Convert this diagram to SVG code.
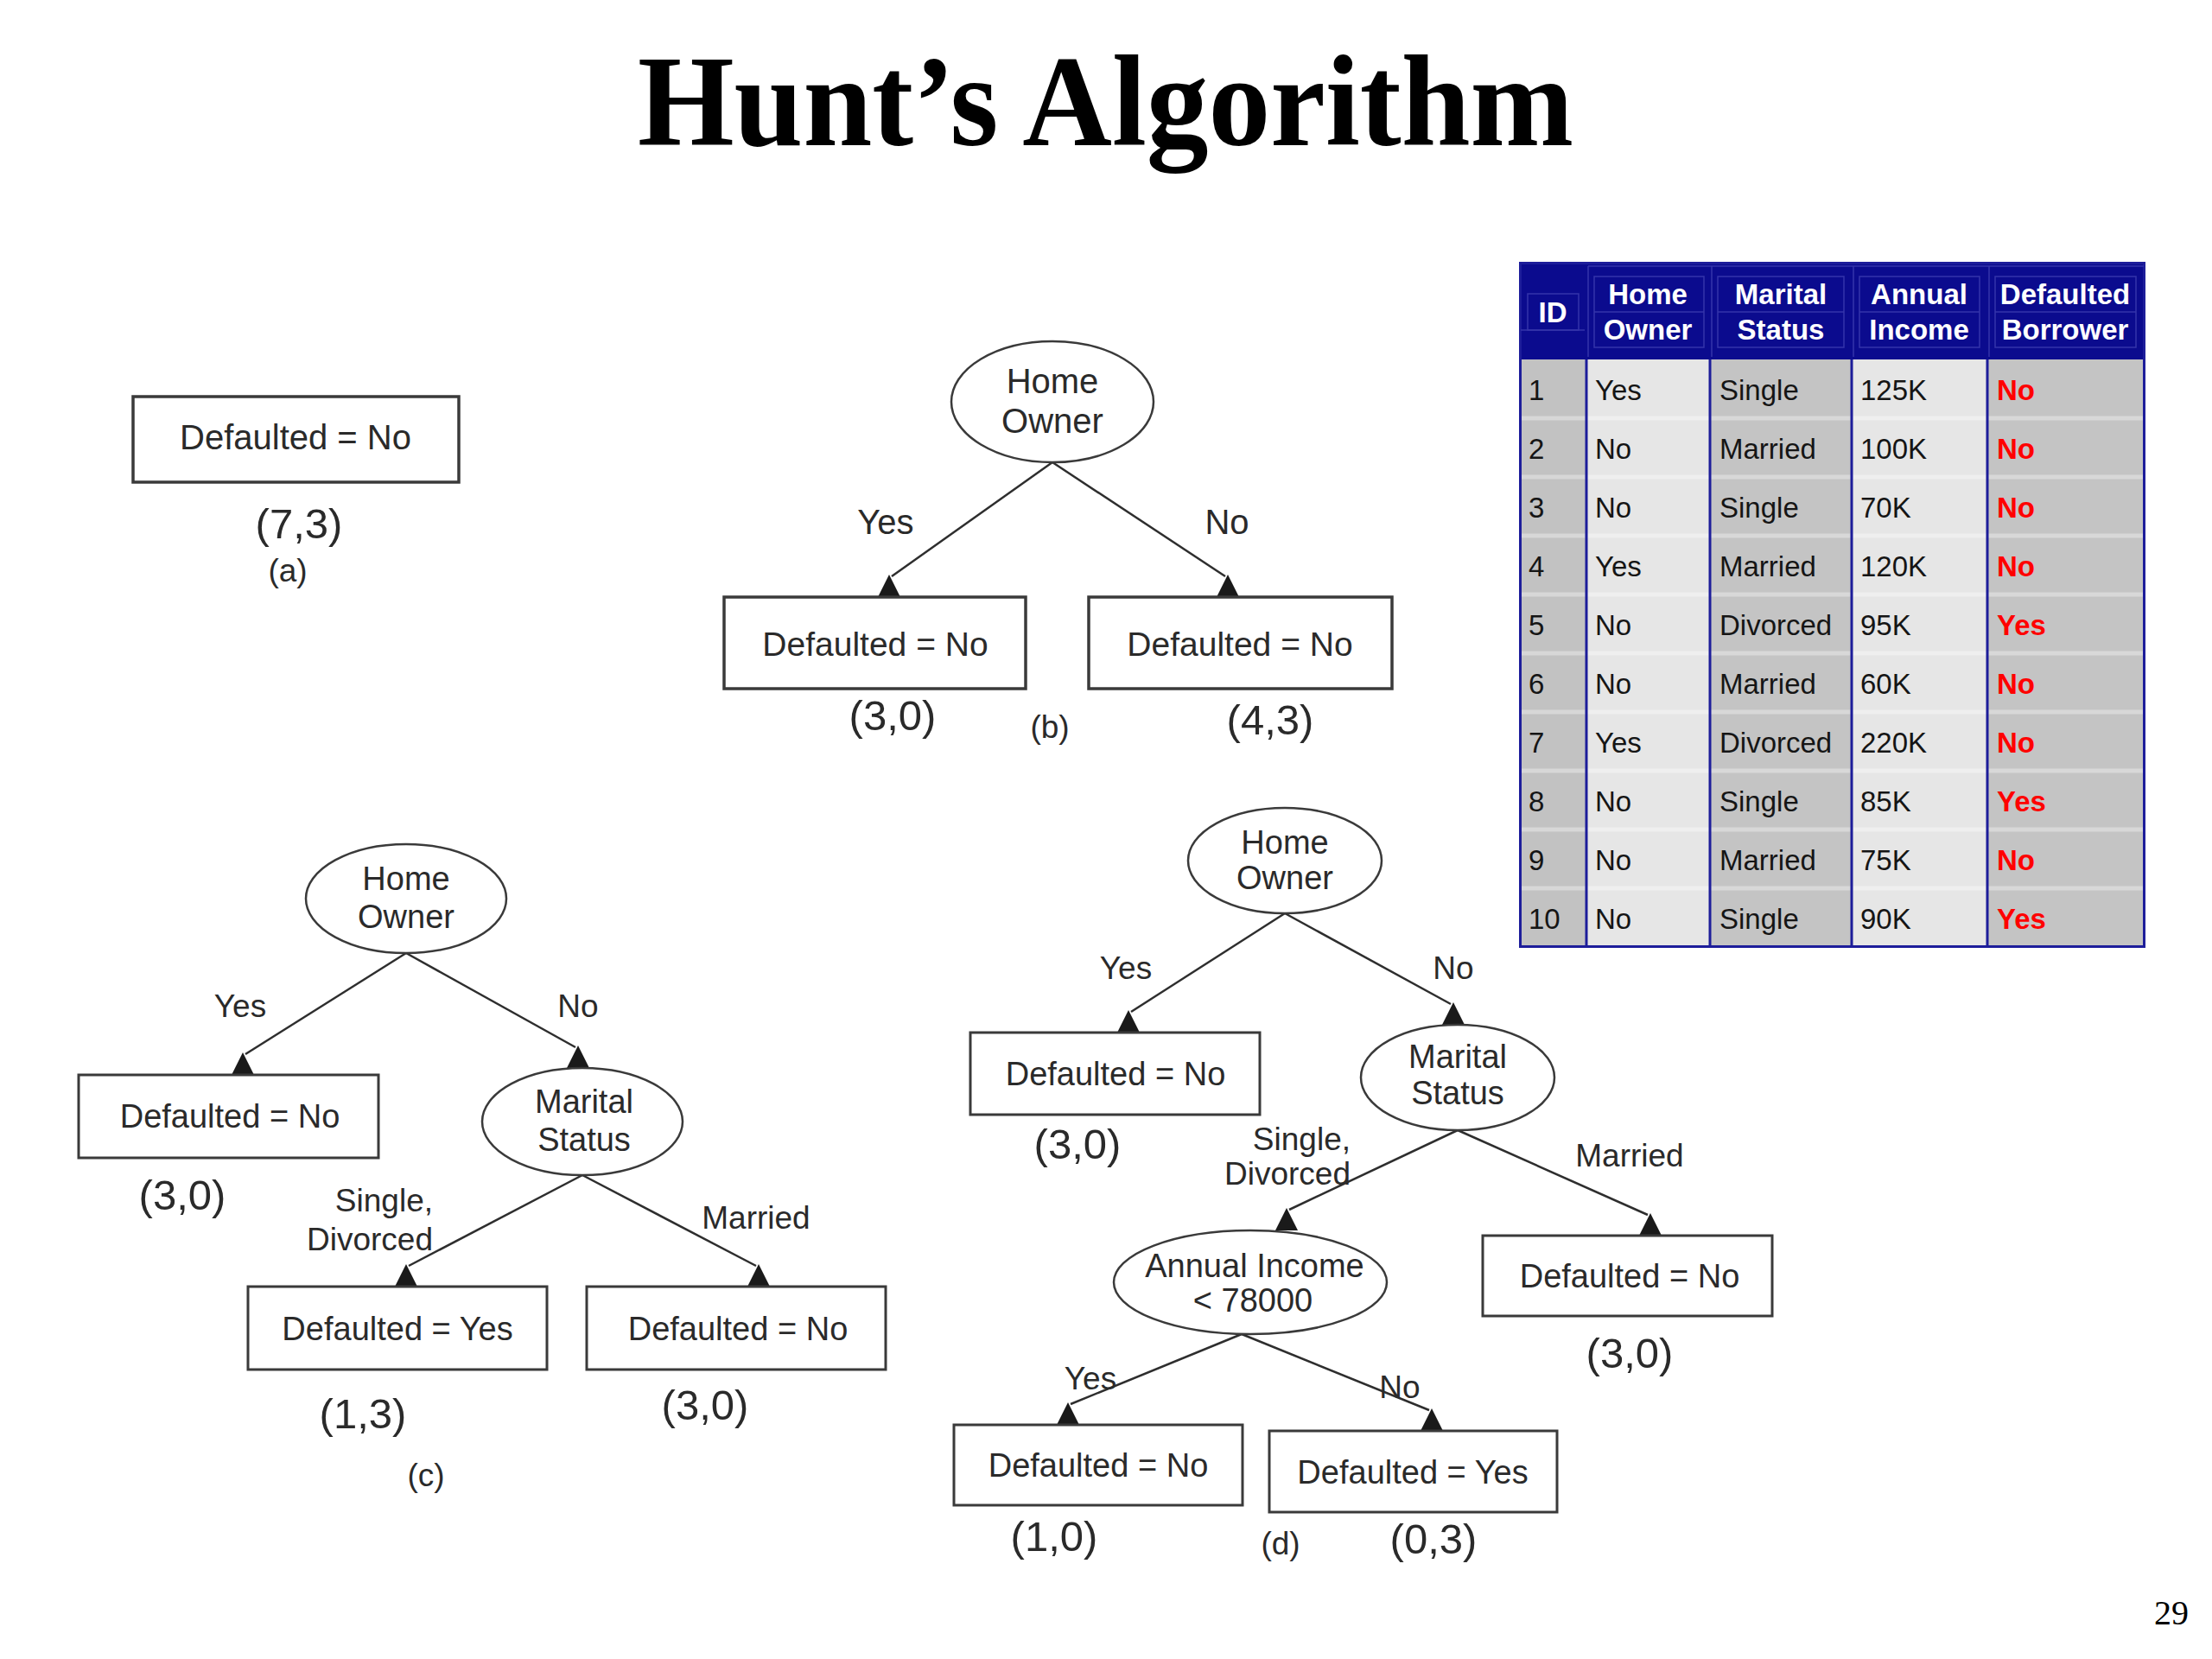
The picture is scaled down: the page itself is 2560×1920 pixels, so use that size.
<svg xmlns="http://www.w3.org/2000/svg" width="2560" height="1920" viewBox="0 0 2560 1920">
<defs>
<style>
.bg{fill:#ffffff}
.box{fill:#ffffff;stroke:#3a3a3a;stroke-width:3}
.ell{fill:#ffffff;stroke:#3a3a3a;stroke-width:2.5}
.edge{stroke:#2e2e2e;stroke-width:2.5;fill:none}
.arr{fill:#1a1a1a}
.t{font-family:"Liberation Sans",Arial,Helvetica,sans-serif;fill:#2a2a2a;text-anchor:middle}
.n{font-size:38px}
.lb{font-size:37px}
.ct{font-size:49px}
.sub{font-size:37px}
.title{font-family:"Liberation Serif","Times New Roman",serif;font-weight:bold;font-size:150px;fill:#000}
.hd{font-family:"Liberation Sans",Arial,sans-serif;font-weight:bold;font-size:33px;fill:#ffffff;text-anchor:middle}
.cell{font-family:"Liberation Sans",Arial,sans-serif;font-size:33px;fill:#151515}
.red{font-family:"Liberation Sans",Arial,sans-serif;font-size:33px;font-weight:bold;fill:#ff0000}
.hl{stroke:#3535aa;stroke-width:1.5;fill:none}
.vl{stroke:#1d1d9a;stroke-width:3}
.rs{stroke:#ffffff;stroke-opacity:0.35;stroke-width:5}
</style>
</defs>
<rect class="bg" x="0" y="0" width="2560" height="1920"/>

<text class="title" x="738" y="168" textLength="1083" lengthAdjust="spacingAndGlyphs">Hunt’s Algorithm</text>

<!-- (a) -->
<g id="a_leaf">
<rect class="box" x="154" y="459" width="377" height="99" style="stroke-width:3.5"/>
<text class="t" x="342" y="520" style="font-size:40px">Defaulted = No</text>
</g>
<g id="a_labels">
<text class="t ct" x="346" y="623">(7,3)</text>
<text class="t sub" x="333" y="673">(a)</text>
</g>

<!-- connectors -->
<g id="connectors">
<!-- b -->
<line class="edge" x1="1218" y1="535" x2="1032" y2="667"/>
<line class="edge" x1="1218" y1="535" x2="1418" y2="667"/>
<polygon class="arr" points="1016,691 1042,691 1029,665"/>
<polygon class="arr" points="1408,691 1434,691 1421,665"/>
<!-- c -->
<line class="edge" x1="470" y1="1103" x2="284" y2="1220"/>
<line class="edge" x1="470" y1="1103" x2="666" y2="1212"/>
<polygon class="arr" points="268,1244 294,1244 281,1218"/>
<polygon class="arr" points="656,1236 682,1236 669,1210"/>
<line class="edge" x1="674" y1="1360" x2="473" y2="1465"/>
<line class="edge" x1="674" y1="1360" x2="875" y2="1465"/>
<polygon class="arr" points="457,1489 483,1489 470,1463"/>
<polygon class="arr" points="865,1489 891,1489 878,1463"/>
<!-- d -->
<line class="edge" x1="1487" y1="1057" x2="1309" y2="1171"/>
<line class="edge" x1="1487" y1="1057" x2="1679" y2="1162"/>
<polygon class="arr" points="1293,1195 1319,1195 1306,1169"/>
<polygon class="arr" points="1669,1186 1695,1186 1682,1160"/>
<line class="edge" x1="1687" y1="1308" x2="1492" y2="1400"/>
<line class="edge" x1="1687" y1="1308" x2="1907" y2="1406"/>
<polygon class="arr" points="1476,1424 1502,1424 1489,1398"/>
<polygon class="arr" points="1897,1430 1923,1430 1910,1404"/>
<line class="edge" x1="1437" y1="1544" x2="1239" y2="1625"/>
<line class="edge" x1="1437" y1="1544" x2="1654" y2="1632"/>
<polygon class="arr" points="1223,1649 1249,1649 1236,1623"/>
<polygon class="arr" points="1644,1656 1670,1656 1657,1630"/>
</g>

<!-- (b) -->
<g id="b_home">
<ellipse class="ell" cx="1218" cy="465" rx="117" ry="70"/>
<text class="t" x="1218" y="455" style="font-size:40px">Home</text>
<text class="t" x="1218" y="501" style="font-size:40px">Owner</text>
</g>
<g id="b_leaf_yes">
<rect class="box" x="838" y="691" width="349" height="106" style="stroke-width:3.5"/>
<text class="t" x="1013" y="759" style="font-size:39px">Defaulted = No</text>
</g>
<g id="b_leaf_no">
<rect class="box" x="1260" y="691" width="351" height="106" style="stroke-width:3.5"/>
<text class="t" x="1435" y="759" style="font-size:39px">Defaulted = No</text>
</g>
<g id="b_labels">
<text class="t" x="1025" y="618" style="font-size:40px">Yes</text>
<text class="t" x="1420" y="618" style="font-size:40px">No</text>
<text class="t ct" x="1033" y="845">(3,0)</text>
<text class="t ct" x="1470" y="850">(4,3)</text>
<text class="t sub" x="1215" y="854">(b)</text>
</g>

<!-- (c) -->
<g id="c_home">
<ellipse class="ell" cx="470" cy="1040" rx="116" ry="63"/>
<text class="t n" x="470" y="1030">Home</text>
<text class="t n" x="470" y="1074">Owner</text>
</g>
<g id="c_leaf_yes">
<rect class="box" x="91" y="1244" width="347" height="96"/>
<text class="t n" x="266" y="1305">Defaulted = No</text>
</g>
<g id="c_marital">
<ellipse class="ell" cx="674" cy="1298" rx="116" ry="62"/>
<text class="t n" x="676" y="1288">Marital</text>
<text class="t n" x="676" y="1332">Status</text>
</g>
<g id="c_leaf_sd">
<rect class="box" x="287" y="1489" width="346" height="96"/>
<text class="t n" x="460" y="1551">Defaulted = Yes</text>
</g>
<g id="c_leaf_m">
<rect class="box" x="679" y="1489" width="346" height="96"/>
<text class="t n" x="854" y="1551">Defaulted = No</text>
</g>
<g id="c_labels">
<text class="t lb" x="278" y="1177">Yes</text>
<text class="t lb" x="669" y="1177">No</text>
<text class="t lb" x="501" y="1402" style="text-anchor:end">Single,</text>
<text class="t lb" x="501" y="1447" style="text-anchor:end">Divorced</text>
<text class="t lb" x="875" y="1422">Married</text>
<text class="t ct" x="211" y="1400">(3,0)</text>
<text class="t ct" x="420" y="1653">(1,3)</text>
<text class="t ct" x="816" y="1643">(3,0)</text>
<text class="t sub" x="493" y="1720">(c)</text>
</g>

<!-- (d) -->
<g id="d_home">
<ellipse class="ell" cx="1487" cy="996" rx="112" ry="61"/>
<text class="t n" x="1487" y="988">Home</text>
<text class="t n" x="1487" y="1029">Owner</text>
</g>
<g id="d_leaf_yes">
<rect class="box" x="1123" y="1195" width="335" height="95"/>
<text class="t n" x="1291" y="1256">Defaulted = No</text>
</g>
<g id="d_marital">
<ellipse class="ell" cx="1687" cy="1247" rx="112" ry="61"/>
<text class="t n" x="1687" y="1236">Marital</text>
<text class="t n" x="1687" y="1278">Status</text>
</g>
<g id="d_leaf_m">
<rect class="box" x="1716" y="1430" width="335" height="93"/>
<text class="t n" x="1886" y="1490">Defaulted = No</text>
</g>
<g id="d_income">
<ellipse class="ell" cx="1447" cy="1484" rx="158" ry="60"/>
<text class="t n" x="1452" y="1478">Annual Income</text>
<text class="t n" x="1450" y="1518">&lt; 78000</text>
</g>
<g id="d_leaf_iy">
<rect class="box" x="1104" y="1649" width="334" height="93"/>
<text class="t n" x="1271" y="1709">Defaulted = No</text>
</g>
<g id="d_leaf_in">
<rect class="box" x="1469" y="1656" width="333" height="94"/>
<text class="t n" x="1635" y="1717">Defaulted = Yes</text>
</g>
<g id="d_labels">
<text class="t lb" x="1303" y="1133">Yes</text>
<text class="t lb" x="1682" y="1133">No</text>
<text class="t lb" x="1563" y="1331" style="text-anchor:end">Single,</text>
<text class="t lb" x="1563" y="1371" style="text-anchor:end">Divorced</text>
<text class="t lb" x="1886" y="1350">Married</text>
<text class="t lb" x="1262" y="1608">Yes</text>
<text class="t lb" x="1620" y="1618">No</text>
<text class="t ct" x="1247" y="1341">(3,0)</text>
<text class="t ct" x="1886" y="1583">(3,0)</text>
<text class="t ct" x="1220" y="1795">(1,0)</text>
<text class="t sub" x="1482" y="1799">(d)</text>
<text class="t ct" x="1659" y="1798">(0,3)</text>
</g>

<!-- table -->
<g id="table">
<rect x="1758" y="303" width="725" height="794" fill="#0b0b8e"/>
<rect x="1760" y="416" width="76" height="679" fill="#c2c2c2"/>
<rect x="1836" y="416" width="143" height="679" fill="#e6e6e6"/>
<rect x="1979" y="416" width="164" height="679" fill="#c4c4c4"/>
<rect x="2143" y="416" width="157" height="679" fill="#e6e6e6"/>
<rect x="2300" y="416" width="181" height="679" fill="#c4c4c4"/>
<g>
<line class="rs" x1="1760" y1="484" x2="2481" y2="484"/>
<line class="rs" x1="1760" y1="552" x2="2481" y2="552"/>
<line class="rs" x1="1760" y1="620" x2="2481" y2="620"/>
<line class="rs" x1="1760" y1="688" x2="2481" y2="688"/>
<line class="rs" x1="1760" y1="756" x2="2481" y2="756"/>
<line class="rs" x1="1760" y1="824" x2="2481" y2="824"/>
<line class="rs" x1="1760" y1="892" x2="2481" y2="892"/>
<line class="rs" x1="1760" y1="960" x2="2481" y2="960"/>
<line class="rs" x1="1760" y1="1028" x2="2481" y2="1028"/>
</g>
<g>
<line class="vl" x1="1836" y1="416" x2="1836" y2="1097"/>
<line class="vl" x1="1979" y1="416" x2="1979" y2="1097"/>
<line class="vl" x1="2143" y1="416" x2="2143" y2="1097"/>
<line class="vl" x1="2300" y1="416" x2="2300" y2="1097"/>
<rect x="1759.5" y="304.5" width="722" height="791" fill="none" stroke="#1d1d9a" stroke-width="3"/>
</g>
<g>
<rect class="hl" x="1768" y="340" width="59" height="42"/>
<line class="hl" x1="1760" y1="382" x2="1834" y2="382"/>
<line class="hl" x1="1838" y1="308" x2="2481" y2="308"/>
<line class="hl" x1="1838" y1="308" x2="1838" y2="413"/>
<line class="hl" x1="1981" y1="308" x2="1981" y2="413"/>
<line class="hl" x1="2145" y1="308" x2="2145" y2="413"/>
<line class="hl" x1="2302" y1="308" x2="2302" y2="413"/>
<rect class="hl" x="1845" y="320" width="127" height="82"/>
<line class="hl" x1="1845" y1="361" x2="1972" y2="361"/>
<rect class="hl" x="1988" y="320" width="146" height="82"/>
<line class="hl" x1="1988" y1="361" x2="2134" y2="361"/>
<rect class="hl" x="2152" y="320" width="139" height="82"/>
<line class="hl" x1="2152" y1="361" x2="2291" y2="361"/>
<rect class="hl" x="2309" y="320" width="163" height="82"/>
<line class="hl" x1="2309" y1="361" x2="2472" y2="361"/>
</g>
<g>
<text class="hd" x="1797" y="373">ID</text>
<text class="hd" x="1907" y="352">Home</text>
<text class="hd" x="1907" y="393">Owner</text>
<text class="hd" x="2061" y="352">Marital</text>
<text class="hd" x="2061" y="393">Status</text>
<text class="hd" x="2221" y="352">Annual</text>
<text class="hd" x="2221" y="393">Income</text>
<text class="hd" x="2390" y="352">Defaulted</text>
<text class="hd" x="2390" y="393">Borrower</text>
</g>
<g>
<text class="cell" x="1769" y="463">1</text><text class="cell" x="1846" y="463">Yes</text><text class="cell" x="1990" y="463">Single</text><text class="cell" x="2153" y="463">125K</text><text class="red" x="2311" y="463">No</text>
<text class="cell" x="1769" y="531">2</text><text class="cell" x="1846" y="531">No</text><text class="cell" x="1990" y="531">Married</text><text class="cell" x="2153" y="531">100K</text><text class="red" x="2311" y="531">No</text>
<text class="cell" x="1769" y="599">3</text><text class="cell" x="1846" y="599">No</text><text class="cell" x="1990" y="599">Single</text><text class="cell" x="2153" y="599">70K</text><text class="red" x="2311" y="599">No</text>
<text class="cell" x="1769" y="667">4</text><text class="cell" x="1846" y="667">Yes</text><text class="cell" x="1990" y="667">Married</text><text class="cell" x="2153" y="667">120K</text><text class="red" x="2311" y="667">No</text>
<text class="cell" x="1769" y="735">5</text><text class="cell" x="1846" y="735">No</text><text class="cell" x="1990" y="735">Divorced</text><text class="cell" x="2153" y="735">95K</text><text class="red" x="2311" y="735">Yes</text>
<text class="cell" x="1769" y="803">6</text><text class="cell" x="1846" y="803">No</text><text class="cell" x="1990" y="803">Married</text><text class="cell" x="2153" y="803">60K</text><text class="red" x="2311" y="803">No</text>
<text class="cell" x="1769" y="871">7</text><text class="cell" x="1846" y="871">Yes</text><text class="cell" x="1990" y="871">Divorced</text><text class="cell" x="2153" y="871">220K</text><text class="red" x="2311" y="871">No</text>
<text class="cell" x="1769" y="939">8</text><text class="cell" x="1846" y="939">No</text><text class="cell" x="1990" y="939">Single</text><text class="cell" x="2153" y="939">85K</text><text class="red" x="2311" y="939">Yes</text>
<text class="cell" x="1769" y="1007">9</text><text class="cell" x="1846" y="1007">No</text><text class="cell" x="1990" y="1007">Married</text><text class="cell" x="2153" y="1007">75K</text><text class="red" x="2311" y="1007">No</text>
<text class="cell" x="1769" y="1075">10</text><text class="cell" x="1846" y="1075">No</text><text class="cell" x="1990" y="1075">Single</text><text class="cell" x="2153" y="1075">90K</text><text class="red" x="2311" y="1075">Yes</text>
</g>
</g>

<text x="2513" y="1880" style="font-family:'Liberation Serif','Times New Roman',serif;font-size:40px;fill:#000;text-anchor:middle">29</text>
</svg>
